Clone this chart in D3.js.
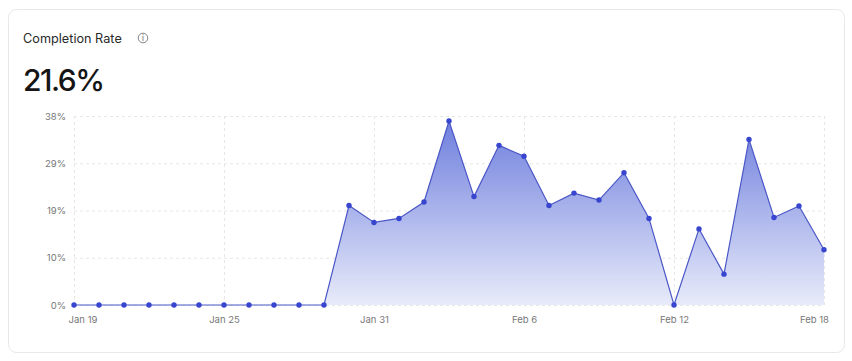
<!DOCTYPE html>
<html>
<head>
<meta charset="utf-8">
<script src="https://cdn.jsdelivr.net/npm/d3@7"></script>
<style>
  html, body { margin: 0; padding: 0; background: #fff; }
  svg { display: block; font-family: Inter, sans-serif; }
</style>
</head>
<body>
<div id="chart"></div>
<script>
// Completion rate per day
const days = [
  "Jan 19", "Jan 20", "Jan 21", "Jan 22", "Jan 23", "Jan 24", "Jan 25", "Jan 26",
  "Jan 27", "Jan 28", "Jan 29", "Jan 30", "Jan 31", "Feb 1", "Feb 2", "Feb 3",
  "Feb 4", "Feb 5", "Feb 6", "Feb 7", "Feb 8", "Feb 9", "Feb 10", "Feb 11",
  "Feb 12", "Feb 13", "Feb 14", "Feb 15", "Feb 16", "Feb 17", "Feb 18"
];
const rates = [
  0, 0, 0, 0, 0, 0, 0, 0,
  0, 0, 0, 20.0, 16.6, 17.4, 20.7, 37.0,
  21.8, 32.1, 29.9, 20.0, 22.5, 21.1, 26.6, 17.4,
  0, 15.3, 6.2, 33.3, 17.6, 19.9, 11.1
];
const xTickLabels = ["Jan 19", "Jan 25", "Jan 31", "Feb 6", "Feb 12", "Feb 18"];
const yTickValues = [0, 9.5, 19, 28.5, 38];
const chartTitle = "Completion Rate";
const headlineValue = "21.6%";

const width = 852, height = 361;
const margin = { top: 116, right: 28, bottom: 56, left: 74 };
const plotWidth = width - margin.left - margin.right;
const plotHeight = height - margin.top - margin.bottom;

const GRID = "#e6e6e6";
const LINE = "#4b57c6";
const DOT = "#3745cf";

const svg = d3.select("#chart").append("svg")
  .attr("width", width)
  .attr("height", height);

// Card
svg.append("rect")
  .attr("x", 8.5).attr("y", 9.5)
  .attr("width", 836).attr("height", 343)
  .attr("rx", 8)
  .attr("fill", "#fff")
  .attr("stroke", "#e8e8e8");

// Header
svg.append("text")
  .attr("x", 23).attr("y", 43)
  .style("font-size", "12.7px")
  .style("fill", "#2a2a2a")
  .text(chartTitle);

const info = svg.append("g").attr("transform", "translate(143, 38)");
info.append("circle")
  .attr("r", 4.8)
  .attr("fill", "none")
  .attr("stroke", "#777")
  .attr("stroke-width", 0.9);
info.append("text")
  .attr("y", 3)
  .attr("text-anchor", "middle")
  .style("font-size", "8px")
  .style("fill", "#666")
  .text("i");

svg.append("text")
  .attr("x", 23).attr("y", 91)
  .style("font-size", "30px")
  .style("font-weight", "500")
  .style("letter-spacing", "-1.5px")
  .style("fill", "#151515")
  .text(headlineValue);

// Gradient under the line
const grad = svg.append("defs").append("linearGradient")
  .attr("id", "areaFill")
  .attr("x1", 0).attr("y1", 0)
  .attr("x2", 0).attr("y2", 1);
grad.append("stop").attr("offset", "0%").attr("stop-color", "#6f7fdd");
grad.append("stop").attr("offset", "100%").attr("stop-color", "#e8ebfa");

const chartG = svg.append("g")
  .attr("transform", `translate(${margin.left}, ${margin.top})`);

// Scales
const x = d3.scalePoint()
  .domain(days)
  .range([0, plotWidth]);

const y = d3.scaleLinear()
  .domain([0, 38])
  .range([plotHeight, 0]);

// Gridlines
chartG.append("g")
  .call(d3.axisLeft(y).tickValues(yTickValues).tickSize(-plotWidth).tickFormat(""))
  .call(g => g.select(".domain").remove())
  .call(g => g.selectAll("text").remove())
  .call(g => g.selectAll("line")
    .attr("stroke", GRID)
    .attr("stroke-dasharray", "3,3"));

chartG.append("g")
  .attr("transform", `translate(0, ${plotHeight})`)
  .call(d3.axisBottom(x).tickValues(xTickLabels).tickSize(-plotHeight).tickFormat(""))
  .call(g => g.select(".domain").remove())
  .call(g => g.selectAll("text").remove())
  .call(g => g.selectAll("line")
    .attr("stroke", GRID)
    .attr("stroke-dasharray", "3,3"));

// Area and line
const area = d3.area()
  .x((d, i) => x(days[i]))
  .y0(plotHeight)
  .y1(d => y(d));

const line = d3.line()
  .x((d, i) => x(days[i]))
  .y(d => y(d));

chartG.append("path")
  .datum(rates)
  .attr("d", area)
  .attr("fill", "url(#areaFill)");

chartG.append("path")
  .datum(rates)
  .attr("d", line)
  .attr("fill", "none")
  .attr("stroke", LINE)
  .attr("stroke-width", 1.2);

chartG.selectAll(".dot")
  .data(rates)
  .join("circle")
  .attr("class", "dot")
  .attr("cx", (d, i) => x(days[i]))
  .attr("cy", d => y(d))
  .attr("r", 2.7)
  .attr("fill", DOT);

// Axes: labels only
chartG.append("g")
  .call(d3.axisLeft(y).tickValues(yTickValues).tickSize(0).tickPadding(8)
    .tickFormat(d => Math.round(d) + "%"))
  .call(g => g.select(".domain").remove())
  .call(g => g.selectAll("text")
    .style("font-family", "Inter, sans-serif")
    .style("font-size", "9.5px")
    .style("fill", "#777"));

chartG.append("g")
  .attr("transform", `translate(0, ${plotHeight})`)
  .call(d3.axisBottom(x).tickValues(xTickLabels).tickSize(0).tickPadding(11))
  .call(g => g.select(".domain").remove())
  .call(g => g.selectAll("text")
    .style("font-family", "Inter, sans-serif")
    .style("font-size", "9.5px")
    .style("fill", "#777"))
  // first and last labels are nudged to stay inside the card
  .call(g => g.selectAll("text")
    .filter(d => d === "Jan 19").attr("dx", 8.5))
  .call(g => g.selectAll("text")
    .filter(d => d === "Feb 18").attr("dx", -10));
</script>
</body>
</html>
